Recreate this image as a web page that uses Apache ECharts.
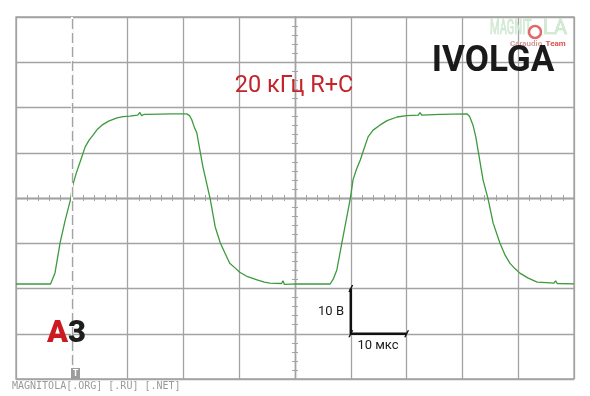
<!DOCTYPE html>
<html>
<head>
<meta charset="utf-8">
<script src="https://cdn.jsdelivr.net/npm/echarts@6/dist/echarts.min.js"></script>
<style>html,body{margin:0;padding:0;background:#fff}#c{width:590px;height:396px}</style>
</head>
<body>
<div id="c"></div>
<script>
// time in µs (0 = screen centre), 10 µs / div
var timeUs = [-50, -43.8, -43.0, -42.1, -41.2, -40.2, -39.9, -39.2, -38.5, -37.6, -36.9, -36.2, -35.4, -34.6, -33.4, -31.9, -30.8, -29.6, -28.2, -27.8, -27.5, -27.0, -26.5, -22.0, -19.4, -18.9, -18.5, -18.0, -17.6, -16.5, -15.2, -14.3, -13.4, -12.5, -11.7, -10.7, -9.9, -8.5, -6.8, -5.5, -4.5, -2.4, -2.15, -1.9, 0.4, 6.3, 6.9, 7.5, 8.4, 9.9, 10.4, 11.0, 11.7, 12.4, 13.1, 14.0, 15.2, 16.5, 18.3, 20.0, 22.1, 22.4, 22.7, 26.0, 30.8, 31.3, 31.9, 32.4, 32.8, 33.7, 34.6, 35.5, 36.7, 37.6, 38.5, 39.4, 40.3, 41.8, 43.4, 45.0, 46.4, 46.7, 47.0, 50];
// voltage in V, 10 V / div
var voltV = [-19.0, -19.0, -16.5, -9.9, -5.0, -0.2, 2.5, 5.5, 8.0, 11.3, 12.8, 13.9, 15.2, 16.1, 17.0, 17.7, 18.0, 18.1, 18.3, 18.9, 18.2, 18.5, 18.5, 18.6, 18.6, 18.2, 17.3, 15.5, 14.4, 6.9, -0.2, -6.4, -9.9, -12.3, -14.4, -15.5, -16.4, -17.4, -18.1, -18.6, -18.8, -18.9, -18.3, -19.1, -19.0, -19.0, -17.8, -15.9, -9.9, -0.2, 4.0, 6.3, 8.4, 11.0, 13.5, 15.0, 16.1, 17.1, 17.9, 18.2, 18.3, 18.9, 18.3, 18.5, 18.6, 18.0, 16.1, 13.5, 10.6, 4.0, -0.2, -5.5, -9.9, -12.5, -14.4, -15.6, -16.6, -17.7, -18.6, -18.7, -18.8, -18.3, -18.9, -19.0];
// scale reference: 10 V (vertical) and 10 µs (horizontal)
var scaleBarT = [10, 10, 20];
var scaleBarV = [-20, -30, -30];
var triggerT = -40;
var titleText = '20 кГц R+C';
var brandText = 'IVOLGA';
var voltLabel = '10 В';
var timeLabel = '10 мкс';
var footerText = 'MAGNITOLA[.ORG] [.RU] [.NET]';

var wave = timeUs.map(function (t, i) { return [t, voltV[i]]; });
var bar = scaleBarT.map(function (t, i) { return [t, scaleBarV[i]]; });

var GRID = '#a3a3a3';
var T_MIN = -50, T_MAX = 50, V_MIN = -40, V_MAX = 40;

function tickAxis(dim, gridIndex, position) {
  var isX = dim === 'x';
  return { type: 'value', gridIndex: gridIndex, position: position,
    min: isX ? T_MIN : V_MIN, max: isX ? T_MAX : V_MAX, interval: 10,
    axisLine: { show: true, onZero: false, lineStyle: { color: GRID, width: 1.3 } },
    axisTick: { show: true, inside: false, length: 3, lineStyle: { color: GRID } },
    minorTick: { show: true, splitNumber: 5, length: 3, lineStyle: { color: GRID } },
    axisLabel: { show: false }, splitLine: { show: false } };
}
function hiddenAxis(gridIndex) {
  return { type: 'value', gridIndex: gridIndex, show: false, min: 0, max: 1 };
}

var chart = echarts.init(document.getElementById('c'));
chart.setOption({
  animation: false,
  backgroundColor: '#fff',
  grid: [
    { left: 16, right: 16, top: 17, bottom: 17, show: true, borderColor: GRID, borderWidth: 1.3, backgroundColor: 'transparent' },
    { left: 16, right: 16, top: 17, bottom: 198 },   // upper half: centre line at its bottom
    { left: 16, right: 16, top: 198, bottom: 17 },   // lower half: centre line at its top
    { left: 16, right: 295, top: 17, bottom: 17 },   // left half: centre line at its right
    { left: 295, right: 16, top: 17, bottom: 17 }    // right half: centre line at its left
  ],
  xAxis: [
    { type: 'value', gridIndex: 0, min: T_MIN, max: T_MAX, interval: 10,
      axisLine: { show: false }, axisTick: { show: false }, axisLabel: { show: false },
      splitLine: { show: true, lineStyle: { color: GRID, width: 1.3 } } },
    tickAxis('x', 1, 'bottom'),
    tickAxis('x', 2, 'top'),
    hiddenAxis(3),
    hiddenAxis(4)
  ],
  yAxis: [
    { type: 'value', gridIndex: 0, min: V_MIN, max: V_MAX, interval: 10,
      axisLine: { show: false }, axisTick: { show: false }, axisLabel: { show: false },
      splitLine: { show: true, lineStyle: { color: GRID, width: 1.3 } } },
    hiddenAxis(1),
    hiddenAxis(2),
    tickAxis('y', 3, 'right'),
    tickAxis('y', 4, 'left')
  ],
  series: [
    { type: 'line', data: wave, showSymbol: false, smooth: false, xAxisIndex: 0, yAxisIndex: 0,
      lineStyle: { color: '#3d9a3d', width: 1.3 }, z: 3,
      markLine: { silent: true, symbol: 'none', label: { show: false }, animation: false,
        data: [
          { xAxis: triggerT, lineStyle: { color: '#ffffff', width: 2, type: 'solid' } },
          { xAxis: triggerT, lineStyle: { color: GRID, width: 1.3, type: [10, 4] } }
        ] } },
    { type: 'line', data: bar, showSymbol: true, symbol: 'path://M0,10 L7,0 L10,0 L3,10 Z', symbolSize: [5, 7], xAxisIndex: 0, yAxisIndex: 0,
      itemStyle: { color: '#111' }, lineStyle: { color: '#111', width: 2.5 }, z: 4 }
  ],
  graphic: [
    { type: 'text', x: 294, y: 86, z: 10, style: { text: titleText, font: '23.5px Roboto, sans-serif', fill: '#c4242c', align: 'center', verticalAlign: 'middle' } },
    { type: 'text', x: 493, y: 62, z: 10, scaleX: 0.95, style: { text: brandText, font: 'bold 37px Roboto, sans-serif', fill: '#1a1a1a', align: 'center', verticalAlign: 'middle' } },
    { type: 'text', x: 490, y: 29, z: 9, scaleX: 0.55, style: { text: 'MAGNIT', font: '20px Roboto, sans-serif', fill: '#d3ead3', stroke: '#b5d9b5', lineWidth: 0.6, align: 'left', verticalAlign: 'middle' } },
    { type: 'circle', shape: { cx: 535, cy: 32, r: 6 }, z: 9, style: { fill: 'none', stroke: '#e06a6a', lineWidth: 2.5 } },
    { type: 'text', x: 543, y: 29, z: 9, style: { text: 'LA', font: '20px Roboto, sans-serif', fill: '#d3ead3', stroke: '#b5d9b5', lineWidth: 0.6, align: 'left', verticalAlign: 'middle' } },
    { type: 'text', x: 510, y: 44, z: 9, style: { text: '{a|Caraudio} {b|Team}', rich: { a: { font: 'bold 8px Roboto, sans-serif', fill: '#d49a9a' }, b: { font: 'bold 8px Roboto, sans-serif', fill: '#e05050' } }, align: 'left', verticalAlign: 'middle' } },
    { type: 'text', x: 47, y: 334, z: 10, style: { text: '{a|A}{b|3}', rich: { a: { font: '900 31px Roboto, sans-serif', fill: '#cc1a22' }, b: { font: '900 31px Roboto, sans-serif', fill: '#1e1e1e' } }, align: 'left', verticalAlign: 'middle', shadowBlur: 3, shadowColor: 'rgba(0,0,0,0.4)', shadowOffsetX: 1, shadowOffsetY: 1 } },
    { type: 'rect', shape: { x: 71, y: 368, width: 9, height: 11 }, z: 10, style: { fill: '#9c9c9c' } },
    { type: 'text', x: 75.5, y: 374, z: 11, style: { text: 'T', font: 'bold 9px Roboto, sans-serif', fill: '#ffffff', align: 'center', verticalAlign: 'middle' } },
    { type: 'text', x: 344, y: 312, z: 10, style: { text: voltLabel, font: '13px Roboto, sans-serif', fill: '#1a1a1a', align: 'right', verticalAlign: 'middle' } },
    { type: 'text', x: 378, y: 346, z: 10, style: { text: timeLabel, font: '13px Roboto, sans-serif', fill: '#1a1a1a', align: 'center', verticalAlign: 'middle' } },
    { type: 'text', x: 12, y: 386, z: 10, style: { text: footerText, font: '10px "DejaVu Sans Mono", monospace', fill: '#9a9a9a', align: 'left', verticalAlign: 'middle' } }
  ]
});
</script>
</body>
</html>
